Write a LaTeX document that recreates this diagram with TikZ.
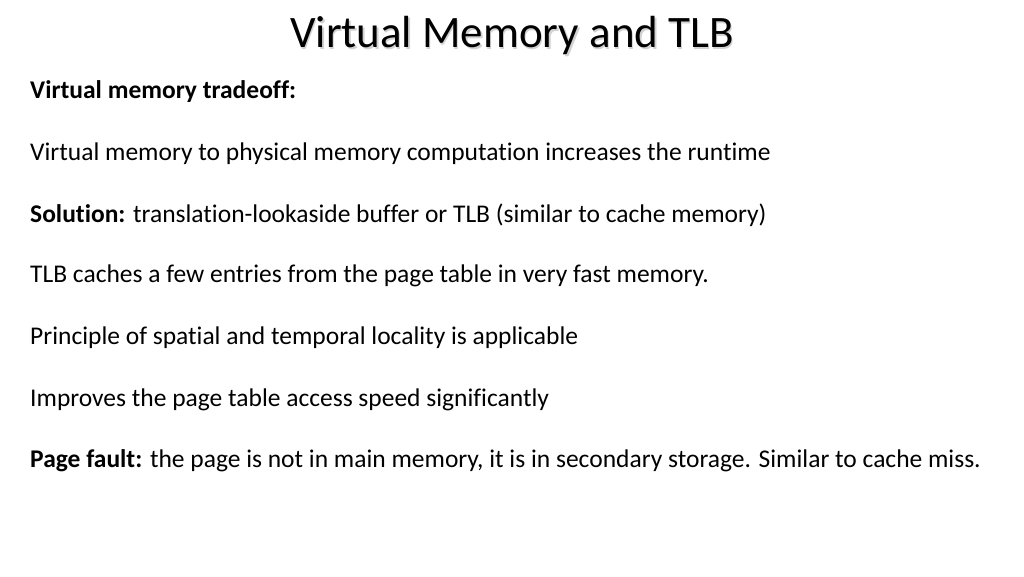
\documentclass[tikz,border=0pt]{standalone}
\usepackage{fontspec}
\setmainfont[Ligatures=NoCommon]{Carlito}
\begin{document}
\begin{tikzpicture}[x=1pt,y=-1pt,
  body/.style={anchor=west,inner sep=0pt,font=\fontsize{25.5}{30}\selectfont}]
\useasboundingbox (0,0) rectangle (1024,576);
\node[inner sep=0pt,font=\fontsize{45}{54}\selectfont,text=gray!35] (tsh) at (513.5,37) {Virtual Memory and TLB};
\node[inner sep=0pt,font=\fontsize{45}{54}\selectfont] (title) at (512,35.5) {Virtual Memory and TLB};
\node[body] (l1) at (30,92) {\bfseries Virtual memory tradeoff:};
\node[body] (l2) at (30,154) {Virtual memory to physical memory computation increases the runtime};
\node[body] (l3) at (30,215) {\textbf{Solution:} translation-lookaside buffer or TLB (similar to cache memory)};
\node[body] (l4) at (30,276) {TLB caches a few entries from the page table in very fast memory.};
\node[body] (l5) at (30,338) {Principle of spatial and temporal locality is applicable};
\node[body] (l6) at (30,400) {Improves the page table access speed significantly};
\node[body] (l7) at (30,461) {\textbf{Page fault:} the page is not in main memory, it is in secondary storage. Similar to cache miss.};
\end{tikzpicture}
\end{document}
